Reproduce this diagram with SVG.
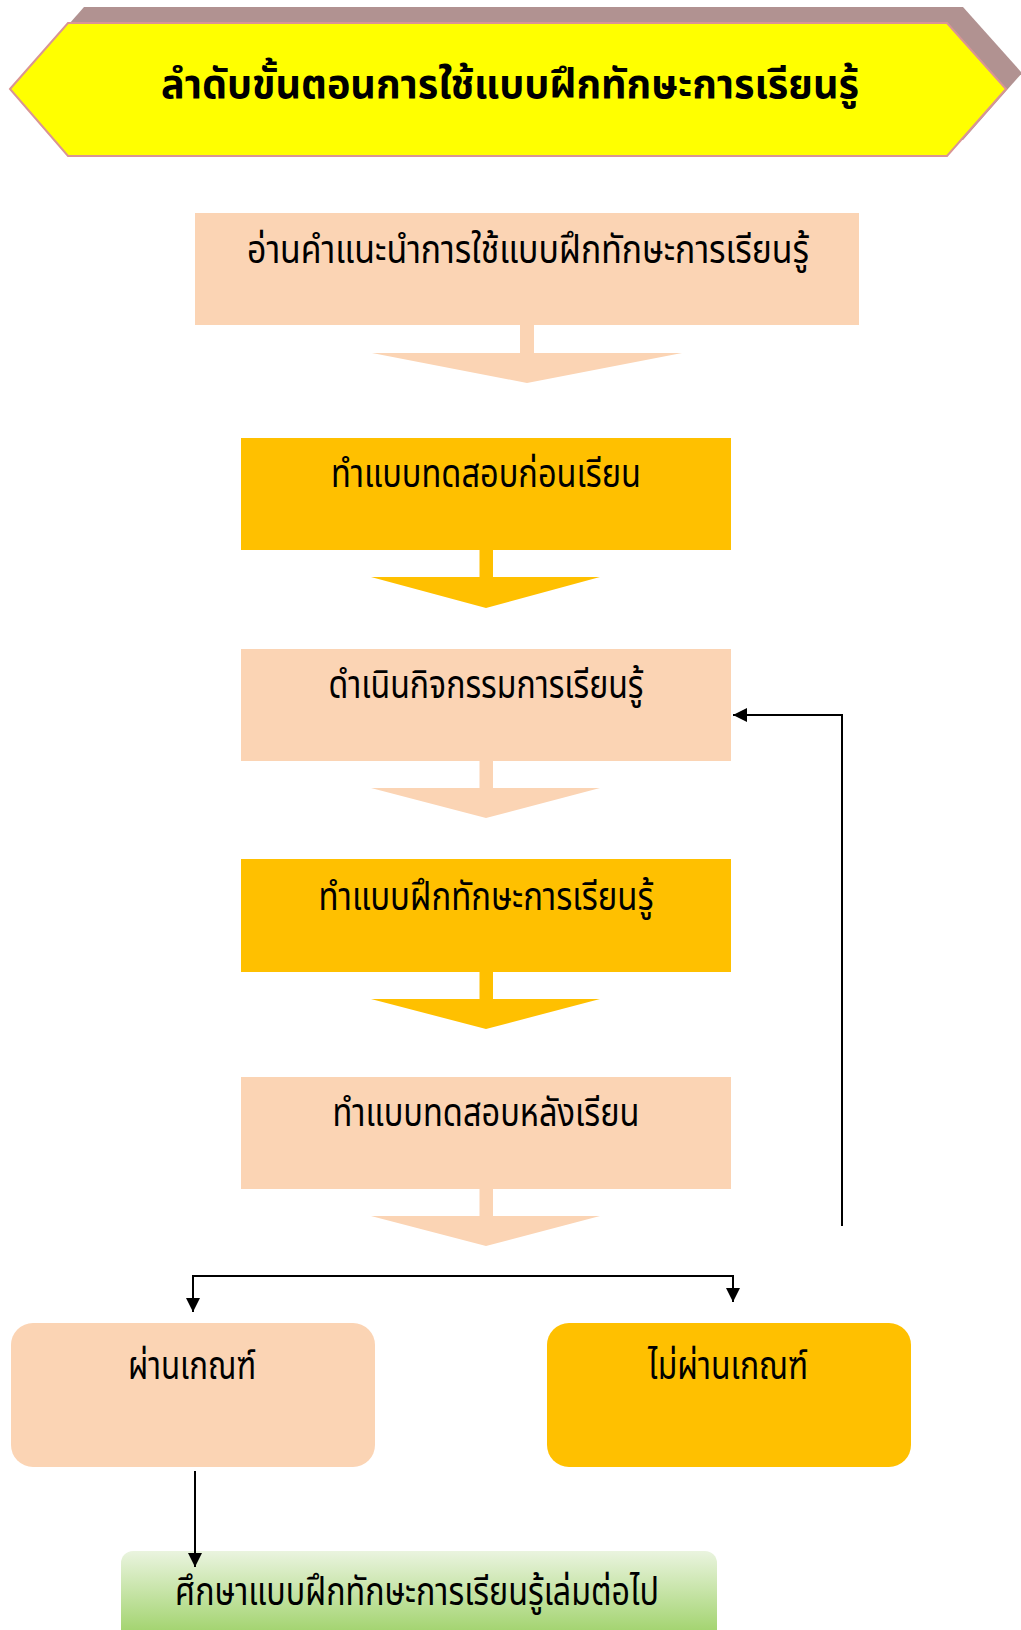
<svg xmlns="http://www.w3.org/2000/svg" width="1021" height="1630" viewBox="0 0 1021 1630">
<defs>
<style>
.t{font-family:"Noto Sans Thai","Noto Sans","DejaVu Sans",sans-serif;font-size:40px;fill:#000;text-anchor:middle}
.peach{fill:#FBD4B4}
.gold{fill:#FFC000}
.ln{fill:none;stroke:#000;stroke-width:2}
</style>
<marker id="ah" viewBox="0 0 10 10" refX="10" refY="5" markerWidth="15" markerHeight="14" markerUnits="userSpaceOnUse" orient="auto-start-reverse">
<path d="M0,0 L10,5 L0,10 z" fill="#000"/>
</marker>
<linearGradient id="gr" x1="0" y1="0" x2="0" y2="1">
<stop offset="0" stop-color="#EAF4DF"/>
<stop offset="1" stop-color="#92CC55"/>
</linearGradient>
</defs>
<rect width="1021" height="1630" fill="#fff"/>

<g id="title">
<polygon points="26,73 84,7 963,7 1022,73 963,140 84,140" fill="#B19291"/>
<polygon points="10,89 68,23 947,23 1006,89 947,156 68,156" fill="#FFFF00" stroke="#D99594" stroke-width="2"/>
<text class="t" x="510" y="98" font-weight="bold" font-size="46" textLength="698" lengthAdjust="spacingAndGlyphs">ลำดับขั้นตอนการใช้แบบฝึกทักษะการเรียนรู้</text>
</g>

<g id="n1">
<rect class="peach" x="195" y="213" width="664" height="112"/>
<text class="t" x="528" y="263" textLength="562" lengthAdjust="spacingAndGlyphs">อ่านคำแนะนำการใช้แบบฝึกทักษะการเรียนรู้</text>
</g>
<g id="n2">
<rect class="gold" x="241" y="438" width="490" height="112"/>
<text class="t" x="486" y="487" textLength="310" lengthAdjust="spacingAndGlyphs">ทำแบบทดสอบก่อนเรียน</text>
</g>
<g id="n3">
<rect class="peach" x="241" y="649" width="490" height="112"/>
<text class="t" x="486" y="698" textLength="315" lengthAdjust="spacingAndGlyphs">ดำเนินกิจกรรมการเรียนรู้</text>
</g>
<g id="n4">
<rect class="gold" x="241" y="859" width="490" height="113"/>
<text class="t" x="486" y="910" textLength="335" lengthAdjust="spacingAndGlyphs">ทำแบบฝึกทักษะการเรียนรู้</text>
</g>
<g id="n5">
<rect class="peach" x="241" y="1077" width="490" height="112"/>
<text class="t" x="486" y="1126" textLength="307" lengthAdjust="spacingAndGlyphs">ทำแบบทดสอบหลังเรียน</text>
</g>
<g id="n6">
<rect class="peach" x="11" y="1323" width="364" height="144" rx="22" ry="22"/>
<text class="t" x="192" y="1379" textLength="128" lengthAdjust="spacingAndGlyphs">ผ่านเกณฑ์</text>
</g>
<g id="n7">
<rect class="gold" x="547" y="1323" width="364" height="144" rx="22" ry="22"/>
<text class="t" x="728" y="1379" textLength="160" lengthAdjust="spacingAndGlyphs">ไม่ผ่านเกณฑ์</text>
</g>
<g id="n8">
<rect fill="url(#gr)" x="121" y="1551" width="596" height="100" rx="12" ry="12"/>
<text class="t" x="417" y="1605" textLength="484" lengthAdjust="spacingAndGlyphs">ศึกษาแบบฝึกทักษะการเรียนรู้เล่มต่อไป</text>
</g>

<g id="connectors">
<path class="peach" d="M520,325 H534 V353 H682 L527,383 L372,353 H520 z"/>
<path class="gold" d="M479.5,550 H493 V577 H600 L486,608 L371,577 H479.5 z"/>
<path class="peach" d="M479.5,761 H493 V788 H600 L486,818 L371,788 H479.5 z"/>
<path class="gold" d="M479.5,972 H493 V999 H600 L486,1029 L371,999 H479.5 z"/>
<path class="peach" d="M479.5,1189 H493 V1216 H600 L486,1246 L371,1216 H479.5 z"/>
<path class="ln" d="M842,1226 V715 H733" marker-end="url(#ah)"/>
<path class="ln" d="M193,1312 V1276 H733 V1302" marker-start="url(#ah)" marker-end="url(#ah)"/>
<path class="ln" d="M195,1471 V1567" marker-end="url(#ah)"/>
</g>
</svg>
